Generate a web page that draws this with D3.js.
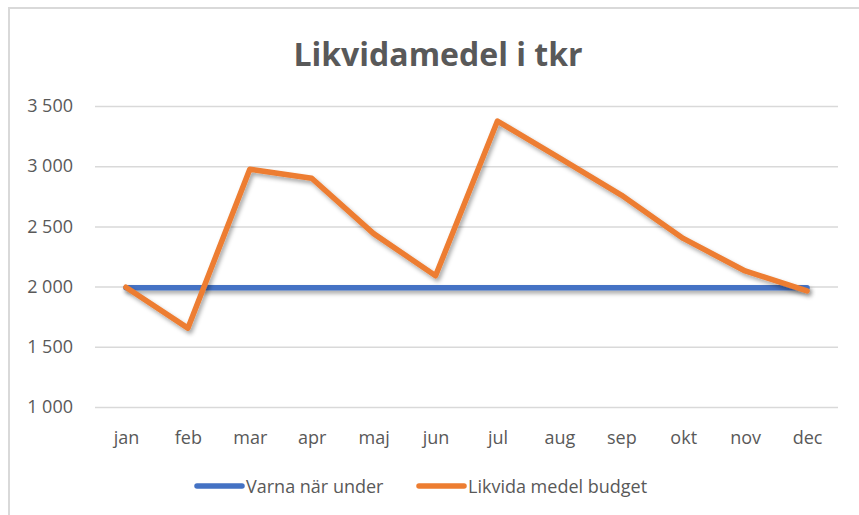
<!DOCTYPE html>
<html><head><meta charset="utf-8">
<script src="https://cdn.jsdelivr.net/npm/d3@7"></script>
<style>body{margin:0;background:#fff}svg{display:block}</style>
</head><body>
<svg id="c" width="859" height="515"></svg>
<script>
const categories = ["jan","feb","mar","apr","maj","jun","jul","aug","sep","okt","nov","dec"];
const varnaNarUnder = [1990,1990,1990,1990,1990,1990,1990,1990,1990,1990,1990,1990];
const likvidaMedelBudget = [1995,1655,2975,2900,2440,2090,3375,3070,2760,2400,2130,1965];
const yTicks = [1000,1500,2000,2500,3000,3500];
const seriesNames = ["Varna när under","Likvida medel budget"];
const colors = ["#4472C4","#ED7D31"];

const svg = d3.select("#c");
const font = "'Open Sans', sans-serif";
const textCol = "#595959";

// frame
svg.append("path").attr("d","M9,515 V8 H859").attr("fill","none").attr("stroke","#d9d9d9").attr("stroke-width",2);

const defs = svg.append("defs");
const f = defs.append("filter").attr("id","sh").attr("filterUnits","userSpaceOnUse")
  .attr("x",0).attr("y",0).attr("width",859).attr("height",515);
f.append("feDropShadow").attr("dx",2).attr("dy",3).attr("stdDeviation",2).attr("flood-color","#000").attr("flood-opacity",0.35);

const x = d3.scalePoint().domain(categories).range([95,838]).padding(0.5);
const y = d3.scaleLinear().domain([1000,3500]).range([407,106]);

// gridlines
const yAxis = d3.axisLeft(y).tickValues(yTicks).tickSize(-(838-95)).tickPadding(22)
  .tickFormat(d => d3.format(",")(d).replace(",", " "));
const gy = svg.append("g").attr("transform","translate(95,0)").call(yAxis);
gy.select(".domain").remove();
gy.selectAll(".tick line").attr("stroke","#d9d9d9").attr("stroke-width",1.5);
gy.selectAll(".tick text").attr("fill",textCol).style("font-family",font).style("font-size","18px");

const xAxis = d3.axisBottom(x).tickSize(0).tickPadding(24);
const gx = svg.append("g").attr("transform","translate(0,407)").call(xAxis);
gx.select(".domain").remove();
gx.selectAll(".tick text").attr("fill",textCol).style("font-family",font).style("font-size","18px");

const line = d3.line().x((d,i)=>x(categories[i])).y(d=>y(d));
[varnaNarUnder, likvidaMedelBudget].forEach((s,k)=>{
  svg.append("path").datum(s).attr("d",line).attr("fill","none")
    .attr("stroke",colors[k]).attr("stroke-width",5.5).attr("stroke-linejoin","round").attr("stroke-linecap","round")
    .attr("filter","url(#sh)");
});

// title
svg.append("text").attr("x",438).attr("y",66).attr("text-anchor","middle")
  .attr("fill",textCol).style("font-family",font).style("font-weight","bold").style("font-size","32px")
  .text("Likvidamedel i tkr");

// legend
const legX = [195,417];
seriesNames.forEach((n,k)=>{
  const g = svg.append("g").attr("transform",`translate(${legX[k]},486)`);
  g.append("line").attr("x1",2).attr("x2",47).attr("y1",0).attr("y2",0)
    .attr("stroke",colors[k]).attr("stroke-width",5.5).attr("stroke-linecap","round");
  g.append("text").attr("x",51).attr("y",6.5).attr("fill",textCol)
    .style("font-family",font).style("font-size","18px").text(n);
});
</script>
</body></html>
